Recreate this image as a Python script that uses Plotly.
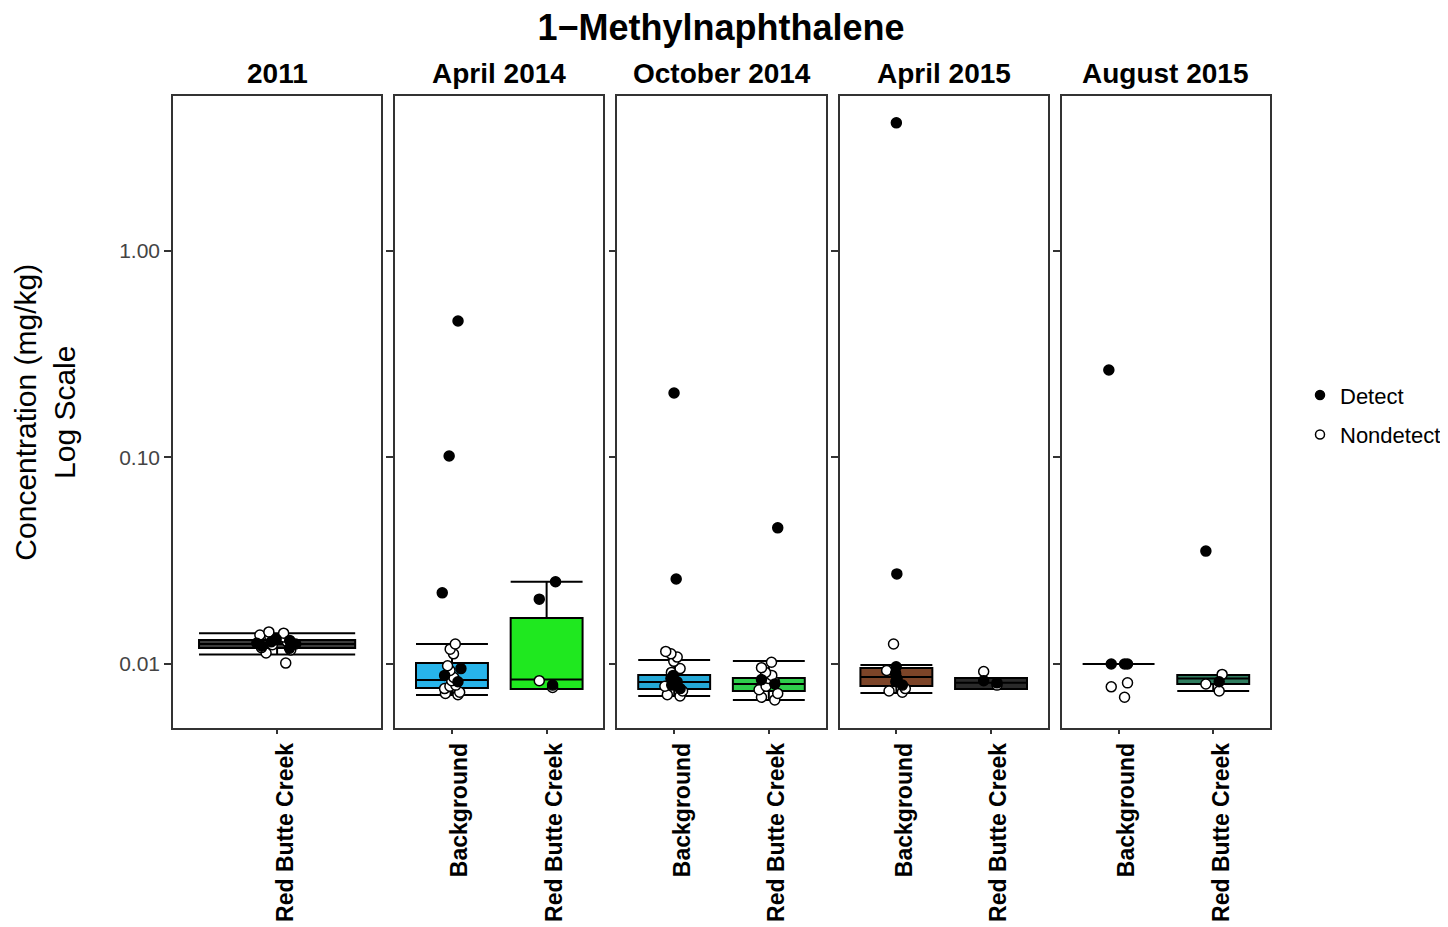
import plotly.graph_objects as go
from plotly.subplots import make_subplots

# Data -------------------------------------------------------------
panel_titles = ["2011", "April 2014", "October 2014", "April 2015", "August 2015"]
panel_sites = [
    ["Red Butte Creek"],
    ["Background", "Red Butte Creek"],
    ["Background", "Red Butte Creek"],
    ["Background", "Red Butte Creek"],
    ["Background", "Red Butte Creek"],
]

# one entry per box (panel index, site)
group_panel = [0, 1, 1, 2, 2, 3, 3, 4, 4]
group_site = ["Red Butte Creek", "Background", "Red Butte Creek", "Background", "Red Butte Creek",
              "Background", "Red Butte Creek", "Background", "Red Butte Creek"]

# box statistics, mg/kg
whisker_low = [0.0111, 0.00708, 0.00757, 0.0070, 0.0067, 0.00724, 0.00757, 0.0100, 0.0074]
quart_1 = [0.01196, 0.00765, 0.00757, 0.00757, 0.0074, 0.00782, 0.00757, 0.0100, 0.0080]
median = [0.0125, 0.00837, 0.0084, 0.00818, 0.0080, 0.00865, 0.0081, 0.0100, 0.0085]
quart_3 = [0.01306, 0.0101, 0.0167, 0.00885, 0.00855, 0.00957, 0.00855, 0.0100, 0.00885]
whisker_high = [0.0141, 0.0125, 0.0250, 0.01045, 0.01035, 0.00989, 0.00855, 0.0100, 0.00885]

detect = [
    [0.0125, 0.0128, 0.0122, 0.0130, 0.0119, 0.0126, 0.0132],
    [0.458, 0.1016, 0.0221, 0.0095, 0.0088, 0.0082],
    [0.0250, 0.0206, 0.0079],
    [0.205, 0.0258, 0.0088, 0.0085, 0.0082, 0.0079, 0.0076],
    [0.0456, 0.0084, 0.0080],
    [4.17, 0.0273, 0.0097, 0.0090, 0.0085, 0.0082, 0.0079],
    [0.0083, 0.0081],
    [0.265, 0.0100, 0.0100, 0.0100],
    [0.0352, 0.0082],
]
nondetect = [
    [0.0141, 0.0143, 0.0138, 0.0135, 0.0128, 0.0124, 0.0120, 0.0117, 0.0113, 0.0101, 0.0136, 0.0131],
    [0.0125, 0.0118, 0.0112, 0.0098, 0.0093, 0.0086, 0.0083, 0.0079, 0.0076, 0.0073, 0.0071, 0.0072, 0.0078],
    [0.0083, 0.0077],
    [0.0115, 0.0112, 0.0108, 0.0103, 0.0095, 0.0091, 0.0078, 0.0074, 0.0071, 0.0070],
    [0.0102, 0.0096, 0.0091, 0.0088, 0.0085, 0.0082, 0.0078, 0.0075, 0.0072, 0.0069, 0.0067],
    [0.0125, 0.0093, 0.0076, 0.0073, 0.0074],
    [0.0092, 0.0079],
    [0.0081, 0.00775, 0.0069],
    [0.0089, 0.0080, 0.0074],
]

# Styling ----------------------------------------------------------
box_colors = ["#3d3d3d", "#27b4ea", "#1fe81f", "#24a8d6", "#2fcf4c",
              "#7c4428", "#2a2a2a", "#111111", "#2f7d5f"]
FONT = "Liberation Sans, Arial, sans-serif"
W, H = 1441, 920  # page body adds ~7px offset

fig = make_subplots(rows=1, cols=5, shared_yaxes=True,
                    horizontal_spacing=14 / 1097,
                    subplot_titles=panel_titles)

for i in range(len(group_panel)):
    col = group_panel[i] + 1
    width = 0.9 if len(panel_sites[group_panel[i]]) == 1 else 0.76
    site = group_site[i]

    # box from summary stats
    fig.add_trace(go.Box(
        x=[site], q1=[quart_1[i]], median=[median[i]], q3=[quart_3[i]],
        lowerfence=[whisker_low[i]], upperfence=[whisker_high[i]],
        width=width, whiskerwidth=1, fillcolor=box_colors[i],
        line=dict(color="black", width=2), boxpoints=False,
        showlegend=False, hoverinfo="skip"),
        row=1, col=col)

    # jittered points
    for vals, fill in [(nondetect[i], "white"), (detect[i], "black")]:
        fig.add_trace(go.Box(
            x=[site] * len(vals), y=vals, width=width,
            boxpoints="all", jitter=0.32, pointpos=0,
            fillcolor="rgba(0,0,0,0)", line=dict(width=0),
            marker=dict(color=fill, size=10, line=dict(color="black", width=1.5)),
            showlegend=False),
            row=1, col=col)

# legend entries
fig.add_trace(go.Scatter(x=[None], y=[None], mode="markers", name="Detect", legendgroup="d",
                         marker=dict(color="black", size=9, line=dict(color="black", width=1.5))),
              row=1, col=5)
fig.add_trace(go.Scatter(x=[None], y=[None], mode="markers", name="Nondetect", legendgroup="n",
                         marker=dict(color="white", size=9, line=dict(color="black", width=1.5))),
              row=1, col=5)

for c in range(1, 6):
    n = len(panel_sites[c - 1])
    rng = [-0.6, 0.6] if n == 1 else [-0.6, 1.6]
    fig.update_xaxes(type="category", categoryorder="array", categoryarray=panel_sites[c - 1],
                     range=rng, tickangle=-90, automargin=False, ticklabelshift=8,
                     tickfont=dict(family=FONT, size=23, color="black", weight="bold"),
                     ticks="outside", ticklen=4, tickcolor="#333", tickwidth=1.5,
                     showline=True, mirror=True, linecolor="#333", linewidth=1.5,
                     showgrid=False, zeroline=False, row=1, col=c)
    fig.update_yaxes(type="log", range=[-2.31, 0.75], tickvals=[0.01, 0.1, 1],
                     ticktext=["0.01", "0.10", "1.00"], automargin=False,
                     tickfont=dict(family=FONT, size=21, color="#444"),
                     ticks="outside", ticklen=7, tickcolor="#333", tickwidth=1.5,
                     showline=True, mirror=True, linecolor="#333", linewidth=1.5,
                     showgrid=False, zeroline=False, row=1, col=c)

for ann in fig.layout.annotations:
    ann.font = dict(family=FONT, size=28, color="black", weight="bold")
    ann.yshift = 5

fig.add_annotation(text="Concentration (mg/kg)<br>Log Scale", textangle=-90,
                   xref="paper", yref="paper", x=-0.117, y=0.5,
                   xanchor="center", yanchor="middle", showarrow=False,
                   font=dict(family=FONT, size=30, color="black"))

fig.update_layout(
    width=W, height=H,
    margin=dict(l=165, r=179, t=88, b=200),
    paper_bgcolor="white", plot_bgcolor="white",
    boxmode="overlay",
    title=dict(text="1\u2212Methylnaphthalene", x=(720 - 7) / W, xanchor="center",
               y=1 - 19 / H, yanchor="middle",
               font=dict(family=FONT, size=36, color="black", weight="bold")),
    legend=dict(xref="container", x=1292 / W, y=0.495, xanchor="left", yanchor="middle",
                traceorder="grouped", tracegroupgap=8, bgcolor="rgba(0,0,0,0)",
                font=dict(family=FONT, size=22, color="black")),
    font=dict(family=FONT),
)

fig.write_html("out.html")
